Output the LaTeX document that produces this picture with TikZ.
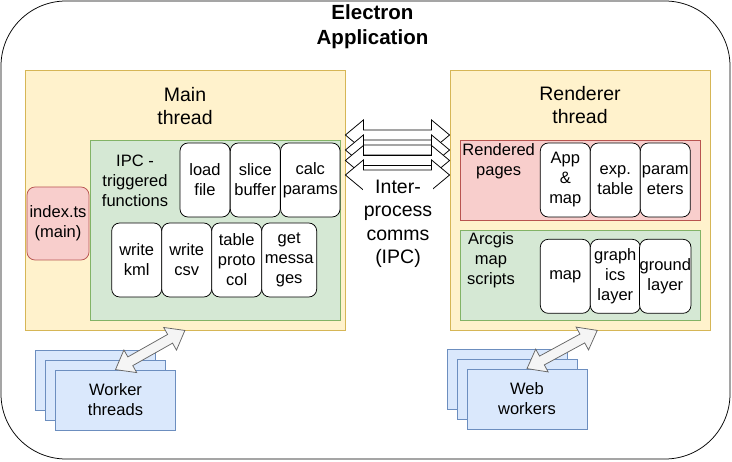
\documentclass[tikz,border=0pt]{standalone}
\usepackage{fontspec}
\setmainfont{Liberation Sans}
\usetikzlibrary{calc}
\definecolor{thrfill}{HTML}{FFF2CC}
\definecolor{thrline}{HTML}{D6B656}
\definecolor{grnfill}{HTML}{D5E8D4}
\definecolor{grnline}{HTML}{82B366}
\definecolor{redfill}{HTML}{F8CECC}
\definecolor{redline}{HTML}{B85450}
\definecolor{blufill}{HTML}{DAE8FC}
\definecolor{bluline}{HTML}{6C8EBF}
\definecolor{arrfill}{HTML}{F5F5F5}
\definecolor{arrline}{HTML}{666666}
% flex arrow: style, from, to, head length, head half width, shaft half width
\newcommand{\flexarrow}[6]{%
  \draw[#1] let \p1=(#2), \p2=(#3), \n1={atan2(\y2-\y1,\x2-\x1)}, \n2={veclen(\x2-\x1,\y2-\y1)}
    in [shift={(\p1)}, rotate=\n1]
    (0,0) -- (#4,#5) -- (#4,#6) -- (\n2-#4,#6) -- (\n2-#4,#5) -- (\n2,0)
    -- (\n2-#4,-#5) -- (\n2-#4,-#6) -- (#4,-#6) -- (#4,-#5) -- cycle;}
\begin{document}
\begin{tikzpicture}[x=1pt,y=-1pt,
    every node/.style={inner sep=0pt, align=center, font=\fontsize{16.5}{20}\selectfont},
    big/.style={font=\fontsize{19.5}{23.5}\selectfont},
    thread/.style={draw=thrline, fill=thrfill, line width=0.75pt},
    grnbox/.style={draw=grnline, fill=grnfill, line width=0.75pt},
    redbox/.style={draw=redline, fill=redfill, line width=0.75pt},
    fn/.style={draw=black, fill=white, line width=0.75pt, rounded corners=8pt, minimum width=50pt, minimum height=74pt},
    worker/.style={draw=bluline, fill=blufill, line width=0.75pt, minimum width=120pt, minimum height=60pt},
    ipcarrow/.style={draw=black, fill=white, line width=0.75pt},
    wrkarrow/.style={draw=arrline, fill=arrfill, line width=0.75pt}]
    \useasboundingbox (0,0) rectangle (732,462);
    \node [draw=black, line width=0.75pt, rounded corners=65pt, minimum width=729pt, minimum height=458pt] (app) at (365.5,230) {};
    \node [font=\fontsize{20.5}{25}\selectfont\bfseries] (title) at (372.5,26.5) {Electron\\Application};
    % main thread
    \node [thread, minimum width=320pt, minimum height=260pt] (main) at (185,200) {};
    \node [big] (mainlbl) at (185,106) {Main\\thread};
    \node [grnbox, minimum width=250pt, minimum height=180pt] (ipcfn) at (215,230) {};
    \node (ipclbl) at (135,181) {IPC -\\triggered\\functions};
    \node [fn] (load) at (205,180) {load\\file};
    \node [fn] (slice) at (255.3,180) {slice\\buffer};
    \node [fn, minimum width=59.5pt] (calc) at (310.3,180) {calc\\params};
    \node [fn] (kml) at (136.7,260) {write\\kml};
    \node [fn] (csv) at (186.7,260) {write\\csv};
    \node [fn] (proto) at (236.7,260) {table\\proto\\col};
    \node [fn, minimum width=55pt] (msgs) at (289.2,260) {get\\messa\\ges};
    \node [redbox, rounded corners=8pt, minimum width=62pt, minimum height=73pt] (index) at (58,223.5) {index.ts\\(main)};
    % renderer thread
    \node [thread, minimum width=260.7pt, minimum height=260pt] (renderer) at (580.3,200) {};
    \node [big] (rendlbl) at (580,105) {Renderer\\thread};
    \node [redbox, minimum width=240pt, minimum height=80.7pt] (pages) at (580.7,180.3) {};
    \node (pageslbl) at (498.7,161.5) {Rendered\\pages};
    \node [fn] (appmap) at (565.3,180) {App\\\&\\map};
    \node [fn] (exptab) at (615.3,180) {exp.\\table};
    \node [fn] (params) at (665.3,180) {param\\eters};
    \node [grnbox, minimum width=240pt, minimum height=90pt] (arcgis) at (580.7,275.7) {};
    \node (arcgislbl) at (491,260) {Arcgis\\map\\scripts};
    \node [fn] (map) at (565.3,276.3) {map};
    \node [fn] (gfx) at (615.3,276.3) {graph\\ics\\layer};
    \node [fn] (ground) at (665.3,276.3) {ground\\layer};
    % inter-process comms
    \flexarrow{ipcarrow}{[yshift=65pt]main.east}{[yshift=65pt]renderer.west}{18}{15}{5}
    \flexarrow{ipcarrow}{[yshift=50pt]main.east}{[yshift=50pt]renderer.west}{18}{15}{5}
    \flexarrow{ipcarrow}{[yshift=39.5pt]main.east}{[yshift=39.5pt]renderer.west}{18}{15}{5}
    \flexarrow{ipcarrow}{[yshift=25pt]main.east}{[yshift=25pt]renderer.west}{18}{15}{5}
    \node [big, fill=white, inner sep=1pt] (ipc) at (398,224) {Inter-\\process\\comms\\(IPC)};
    % workers
    \node [worker] (wt1) at (95,380) {};
    \node [worker] (wt2) at (105,390) {};
    \node [worker] (wt3) at (115.5,400) {Worker\\threads};
    \node [worker] (ww1) at (507,379) {};
    \node [worker] (ww2) at (517,389) {};
    \node [worker] (ww3) at (527,399) {Web\\workers};
    \flexarrow{wrkarrow}{wt3.north}{main.south}{17}{13}{5}
    \flexarrow{wrkarrow}{ww3.north}{[xshift=17pt]renderer.south}{17}{13}{5}
\end{tikzpicture}
\end{document}
